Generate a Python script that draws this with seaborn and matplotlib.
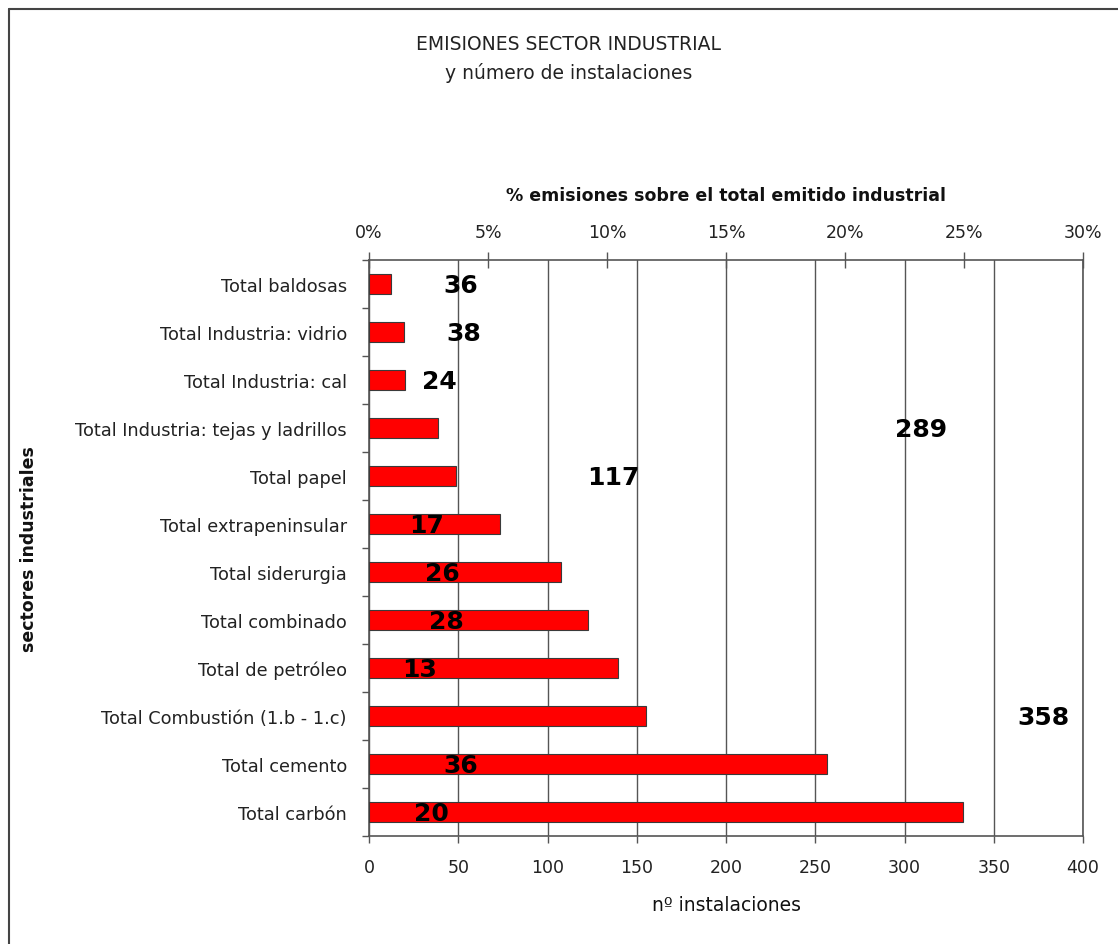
import matplotlib
matplotlib.use("Agg")
import matplotlib.pyplot as plt
import seaborn as sns
import pandas as pd
from matplotlib.lines import Line2D
from matplotlib.ticker import FuncFormatter, MultipleLocator

# Datos (de arriba a abajo)
sectores = [
    "Total baldosas",
    "Total Industria: vidrio",
    "Total Industria: cal",
    "Total Industria: tejas y ladrillos",
    "Total papel",
    "Total extrapeninsular",
    "Total siderurgia",
    "Total combinado",
    "Total de petróleo",
    "Total Combustión (1.b - 1.c)",
    "Total cemento",
    "Total carbón",
]
emisiones_pct = [0.94, 1.46, 1.50, 2.89, 3.66, 5.49, 8.08, 9.20, 10.46, 11.63, 19.25, 24.96]
instalaciones = [36, 38, 24, 289, 117, 17, 26, 28, 13, 358, 36, 20]

pct_ticks = [0, 5, 10, 15, 20, 25, 30]
inst_ticks = [0, 50, 100, 150, 200, 250, 300, 350, 400]

sns.set_theme(style="white")
plt.rcParams['font.family'] = ['DejaVu Sans']

fig = plt.figure(figsize=(11.18, 9.45), dpi=100)
W, H = 1118, 945
ax = fig.add_axes([369 / W, 1 - 837 / H, (1083 - 369) / W, (837 - 261) / H])

# eje inferior: numero de instalaciones (con rejilla detras de las barras)
ax.set_xlim(0, 400)
ax.set_xticks(inst_ticks)
ax.grid(axis="x", color="#555555", linewidth=1)
ax.grid(axis="y", visible=False)
ax.set_axisbelow(True)

# eje superior: % emisiones, barras
ax2 = ax.twiny()
df = pd.DataFrame({"sector": sectores, "pct": emisiones_pct})
sns.barplot(data=df, x="pct", y="sector", orient="h", color="#ff0000",
            saturation=1, width=0.4, edgecolor="#3a3a3a", linewidth=0.8, ax=ax2)
ax2.set_xlim(0, 30)
ax2.set_xticks(pct_ticks)
ax2.xaxis.set_major_formatter(FuncFormatter(lambda v, p: f"{v:.0f}%"))
ax2.xaxis.tick_top()
ax2.set_xlabel("% emisiones sobre el total emitido industrial", fontsize=12.5,
               fontweight="bold", color="#111111")
ax2.xaxis.set_label_position("top")
ax2.xaxis.set_label_coords(0.5, (837 - 201) / 576)
ax2.grid(False)
for s in ax2.spines.values():
    s.set_visible(False)
ax2.tick_params(axis="x", direction="inout", length=12, width=1, color="#555555",
                labelsize=12.5, labelcolor="#222222", pad=8)

ax.set_ylim(11.5, -0.5)
ax.set_yticks(range(len(sectores)))
ax.set_yticklabels(sectores)
ax.yaxis.set_minor_locator(MultipleLocator(1, offset=0.5))
ax.tick_params(axis="y", which="major", length=0, labelsize=12.8, labelcolor="#222222", pad=16)
ax.tick_params(axis="y", which="minor", left=True, direction="out", length=5,
               width=1, color="#555555")
ax.tick_params(axis="x", direction="out", length=5, width=1, color="#555555",
               labelsize=12.5, labelcolor="#222222", pad=11, bottom=True)
for s in ax.spines.values():
    s.set_color("#555555")
    s.set_linewidth(1.2)

ax.set_xlabel("nº instalaciones", fontsize=13.5, color="#111111")
ax.xaxis.set_label_coords(0.5, (837 - 896) / 576)
ax.set_ylabel("sectores industriales", fontsize=12.5, fontweight="bold", color="#111111")
ax.yaxis.set_label_coords((38 - 369) / 714, 0.5)

# etiquetas con el numero de instalaciones (sobre las barras)
for i, n in enumerate(instalaciones):
    ax2.annotate(str(n), xy=(n, i), xycoords=ax.transData, xytext=(7, -1),
                 textcoords="offset points", ha="left", va="center",
                 fontsize=18, fontweight="bold", color="#000000")

fig.text(568 / W, 1 - 45 / H, "EMISIONES SECTOR INDUSTRIAL", ha="center", va="center",
         fontsize=13.5, color="#222222")
fig.text(569 / W, 1 - 73 / H, "y número de instalaciones", ha="center", va="center",
         fontsize=13.5, color="#222222")

# marco del grafico
fig.add_artist(Line2D([8.5 / W, 8.5 / W], [0, 1 - 10 / H], transform=fig.transFigure,
                      color="#444444", linewidth=1.5))
fig.add_artist(Line2D([8.5 / W, 1], [1 - 10 / H, 1 - 10 / H], transform=fig.transFigure,
                      color="#444444", linewidth=1.5))

fig.savefig("out.png", dpi=100)
